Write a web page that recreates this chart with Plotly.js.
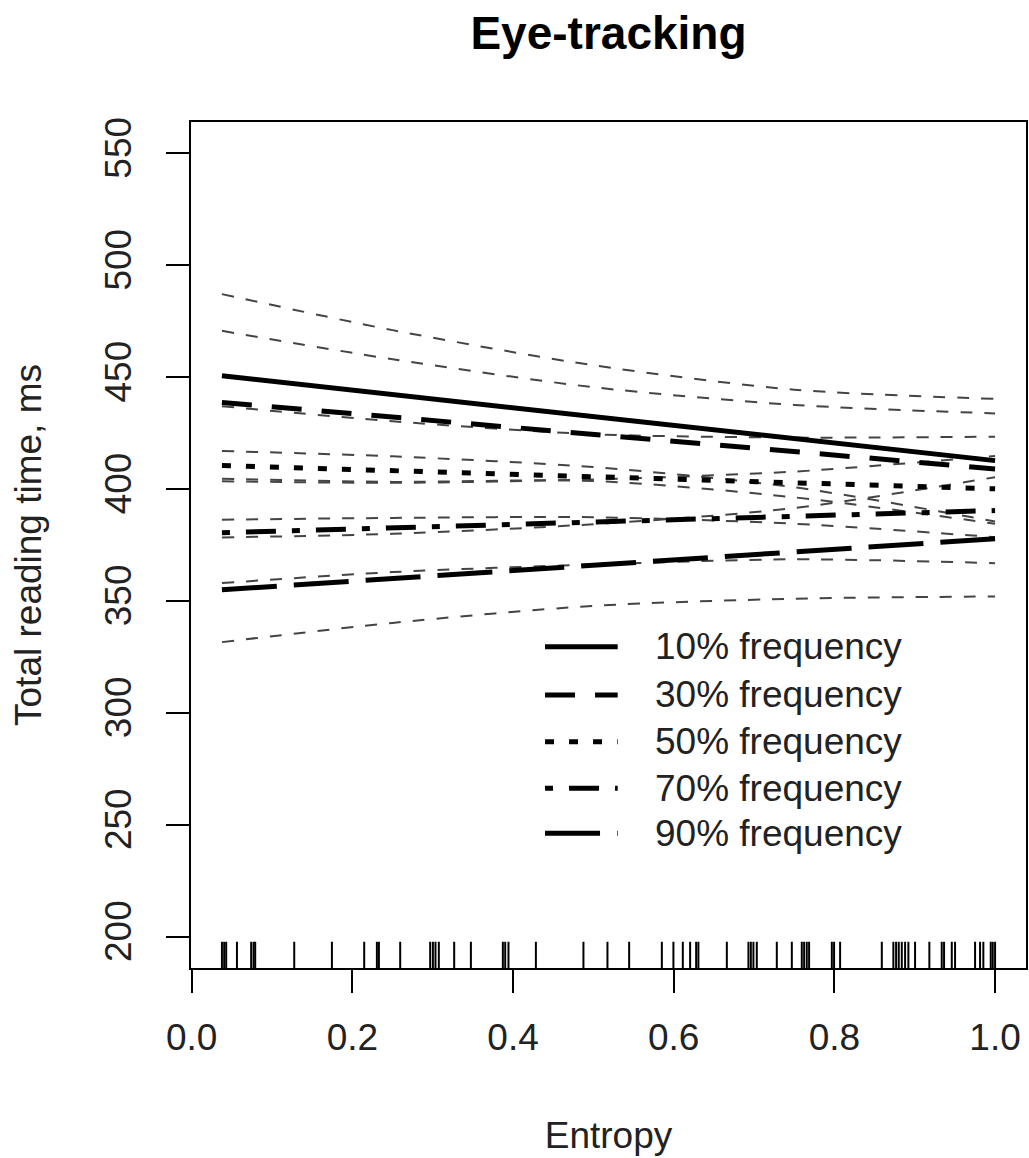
<!DOCTYPE html>
<html>
<head>
<meta charset="utf-8">
<script src="https://cdn.plot.ly/plotly-3.0.1.min.js"></script>
<style>html,body{margin:0;padding:0;background:#fff;}#chart{width:1029px;height:1158px;}</style>
</head>
<body>
<div id="chart"></div>
<script>
// ---- Data ----
const entropyRug = [0.0376, 0.0404, 0.0429, 0.0563, 0.074, 0.077, 0.079, 0.1276, 0.1745, 0.2147,
  0.2305, 0.233, 0.2595, 0.2968, 0.3002, 0.3034, 0.3076, 0.3267, 0.3475, 0.3873, 0.3902, 0.3943,
  0.4284, 0.4876, 0.5175, 0.5445, 0.5852, 0.5996, 0.6113, 0.6204, 0.6279, 0.6307, 0.6661, 0.693,
  0.696, 0.6992, 0.7034, 0.7283, 0.747, 0.7594, 0.7623, 0.7656, 0.7685, 0.7968, 0.7996, 0.8071,
  0.859, 0.8734, 0.8768, 0.8801, 0.8839, 0.888, 0.8921, 0.9004, 0.9182, 0.9336, 0.9365, 0.9461,
  0.9502, 0.9751, 0.9813, 0.9854, 0.9946, 0.9971, 1.0];

const entropyGrid = [0.0376, 0.25, 0.5, 0.75, 1.0];

const seriesNames = ["10% frequency", "30% frequency", "50% frequency", "70% frequency", "90% frequency"];

const fit10 = [450.6, 442.3, 432.4, 422.6, 412.7];
const fit30 = [438.7, 432.2, 424.5, 416.8, 409.0];
const fit50 = [410.5, 408.2, 405.5, 402.8, 400.1];
const fit70 = [380.5, 382.7, 385.3, 387.8, 390.4];
const fit90 = [355.0, 360.0, 366.0, 371.9, 377.8];

const upper10 = [487.1, 471.0, 455.3, 444.4, 440.3];
const lower10 = [417.0, 414.6, 409.8, 400.8, 385.5];
const upper30 = [470.7, 458.0, 445.5, 437.6, 433.8];
const lower30 = [404.6, 403.2, 403.6, 396.3, 384.5];
const upper50 = [437.0, 430.3, 424.5, 423.0, 423.4];
const lower50 = [386.3, 387.1, 387.4, 384.5, 378.5];
const upper70 = [403.5, 402.8, 404.3, 407.8, 414.8];
const lower70 = [358.0, 362.9, 366.3, 368.6, 366.9];
const upper90 = [378.4, 380.0, 384.3, 391.5, 405.3];
const lower90 = [331.6, 340.2, 347.8, 351.0, 352.0];

const xTickVals = [0.0, 0.2, 0.4, 0.6, 0.8, 1.0];
const yTickVals = [200, 250, 300, 350, 400, 450, 500, 550];

// ---- Styles ----
const FONT = '"Liberation Sans", Arial, Helvetica, sans-serif';
const mainDash = ["solid", "30px,20px", "9px,15px", "8px,16px,30px,16px", "55px,17px"];
const mainWidth = 5;
const ciStyle = {color: "#444", width: 2, dash: "12px,12px"};

const fits = [fit10, fit30, fit50, fit70, fit90];
const bands = [[upper10, lower10], [upper30, lower30], [upper50, lower50], [upper70, lower70], [upper90, lower90]];

const traces = [];
bands.forEach((b, i) => {
  b.forEach(arr => {
    traces.push({x: entropyGrid, y: arr, type: "scatter", mode: "lines",
      line: Object.assign({shape: "spline", smoothing: 0.8}, ciStyle),
      showlegend: false, hoverinfo: "skip"});
  });
});
fits.forEach((f, i) => {
  traces.push({x: entropyGrid, y: f, type: "scatter", mode: "lines", name: seriesNames[i],
    line: {color: "#000", width: mainWidth, dash: mainDash[i]}, showlegend: false});
});

// rug along the x axis
const shapes = entropyRug.map(v => ({type: "line", xref: "x", yref: "y domain",
  x0: v, x1: v, y0: 0, y1: 0.031, line: {color: "#000", width: 2}}));

// custom legend (line samples + labels)
const legX0 = 0.424, legX1 = 0.511, legTextX = 0.553;
const legY = [0.3798, 0.3227, 0.2675, 0.2124, 0.1592];
const annotations = [];
seriesNames.forEach((name, i) => {
  shapes.push({type: "line", xref: "paper", yref: "paper", x0: legX0, x1: legX1, y0: legY[i], y1: legY[i],
    line: {color: "#000", width: mainWidth, dash: mainDash[i]}});
  annotations.push({xref: "paper", yref: "paper", x: legTextX, y: legY[i], xanchor: "left", yanchor: "middle",
    text: name, showarrow: false, font: {family: FONT, size: 37, color: "#222"}});
});

const layout = {
  width: 1029, height: 1158,
  margin: {l: 191, r: 3, t: 122, b: 190, pad: 0},
  paper_bgcolor: "#fff", plot_bgcolor: "#fff",
  font: {family: FONT, color: "#222"},
  title: {text: "<b>Eye-tracking</b>", font: {family: FONT, size: 46, color: "#000"},
    x: 0.5, xref: "paper", xanchor: "center", y: 1 - 33 / 1158, yref: "container", yanchor: "middle"},
  xaxis: {
    range: [-0.0009, 1.0385], tickvals: xTickVals, ticktext: xTickVals.map(v => v.toFixed(1)),
    ticks: "outside", ticklen: 23, tickwidth: 2, tickcolor: "#000",
    showline: true, mirror: true, linecolor: "#000", linewidth: 2,
    showgrid: false, zeroline: false,
    tickfont: {family: FONT, size: 37, color: "#222"},
    ticklabelstandoff: 13,
    title: {text: "Entropy", font: {family: FONT, size: 37, color: "#222"}, standoff: 65}
  },
  yaxis: {
    range: [186, 564], tickvals: yTickVals,
    ticks: "outside", ticklen: 23, tickwidth: 2, tickcolor: "#000",
    tickangle: -90,
    showline: true, mirror: true, linecolor: "#000", linewidth: 2,
    showgrid: false, zeroline: false,
    tickfont: {family: FONT, size: 37, color: "#222"},
    ticklabelstandoff: 20,
    title: {text: "Total reading time, ms", font: {family: FONT, size: 37, color: "#222"}, standoff: 45}
  },
  shapes: shapes,
  annotations: annotations,
  showlegend: false
};

Plotly.newPlot("chart", traces, layout, {displayModeBar: false, staticPlot: true});
</script>
</body>
</html>
